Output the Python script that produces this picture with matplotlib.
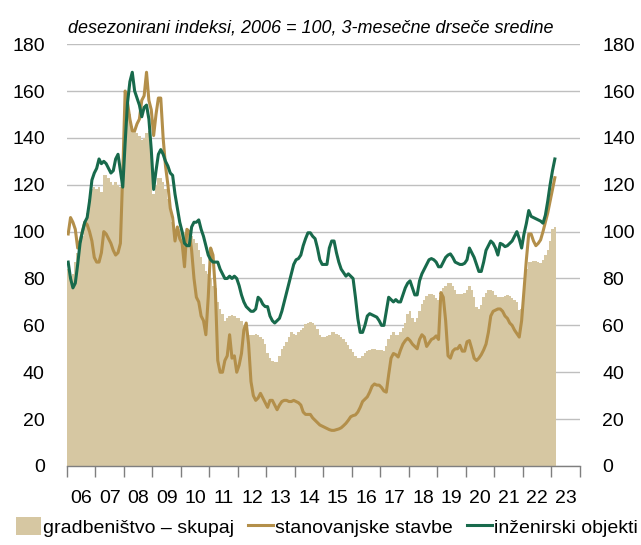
import matplotlib
matplotlib.use("Agg")
import matplotlib.pyplot as plt
from matplotlib.patches import Patch
from matplotlib.lines import Line2D
import numpy as np

plt.rcParams['font.family'] = ['Liberation Sans', 'DejaVu Sans']

# monthly values, Jan 2006 - Feb 2023
gradbenistvo = [
    84, 81, 82, 87, 91, 95, 98, 103, 108, 114, 118, 119,
    118, 119, 117, 124, 124, 123, 121, 120, 121, 120, 119, 120,
    148, 160, 150, 145, 143, 142, 141, 139, 140, 142, 143, 134,
    116, 120, 123, 123, 121, 118, 114, 110, 104, 100, 100, 101,
    101, 100, 100, 99, 98, 97, 95, 92, 89, 86, 83, 82,
    80, 77, 76, 70, 67, 65, 62, 63, 64, 64.5, 64, 63,
    63, 62, 60, 58, 56, 56, 56, 56.5, 56, 55, 54, 52,
    48, 46, 45, 44.5, 44.5, 47, 50, 51, 53, 55, 57, 56.5,
    56, 57, 58, 59, 60.5, 61, 61.5, 61, 60, 58.5, 56, 55,
    55, 55.5, 56, 57, 57, 56.5, 56, 55, 54, 53, 51.5, 50,
    48.5, 47, 46, 46, 47, 48, 49, 49.5, 50, 50, 49.5, 49.5,
    49.5, 49, 51, 54, 56, 57, 56, 56, 57, 59, 61, 65,
    66, 63, 61.5, 63, 66, 69, 71, 72.5, 73.5, 73.5, 73, 71.5,
    71, 74, 76, 77, 78, 78, 77, 75, 73.5, 73.5, 73.5, 74,
    75, 77, 75, 72, 68, 67, 68.5, 72, 74, 75, 75, 74.5,
    73, 72, 72, 72, 72.5, 73, 72.5, 71.5, 71, 70, 66.5, 67,
    78, 84, 87, 87, 87.5, 87.5, 87, 86.5, 88, 90, 92, 96,
    101, 102,
]

stanovanjske = [
    99, 106, 104, 101, 93, 96, 100, 104, 103, 100, 96, 89,
    87, 87, 91, 100, 99, 97, 95, 92, 90, 91, 95, 125,
    160, 155, 148, 143, 143, 146, 148, 156, 158, 168, 156, 152,
    141, 150, 157, 157, 140, 128, 120, 110, 106, 96, 102, 97,
    95, 85, 101, 100, 92, 80, 72, 70, 64, 62, 56, 72,
    93, 90, 75, 45, 40, 40, 45, 47, 56, 46, 47, 40,
    43, 48, 58, 61, 52, 36, 30, 28, 29, 31, 29, 27,
    25, 28, 28, 26, 24, 26, 27.5, 28, 28, 27.5, 27.5, 28,
    27.5, 27, 26, 23, 22, 22, 22, 20.5, 19.5, 18.5, 17.5, 17,
    16.5, 16, 15.5, 15.2, 15.2, 15.5, 15.8, 16.3, 17.2, 18.2, 19.5, 21,
    21.5, 21.8, 23, 25, 27.5, 28.5, 29.5, 31.5, 34, 35, 34.5, 34.5,
    33.5, 32, 31.5, 39, 46, 48, 47.5, 46.5, 49.5, 52, 53.5, 54.5,
    53.5, 52, 51, 50, 54, 56, 55, 51, 52.5, 54, 54.5, 55.5,
    54, 74, 72, 62, 47, 46, 49, 50, 50, 51.5, 49, 49,
    53, 53.5, 50, 46, 45, 46, 47.5, 49.5, 52, 57, 64, 66,
    66.5, 67, 67, 66, 64, 63, 61, 60, 58, 56.5, 55, 62,
    75, 88, 99, 99, 96, 94, 95, 96.5, 100, 104, 108, 113,
    118, 123,
]

inzenirski = [
    87, 80, 76, 78, 86, 95, 100, 104, 106, 113, 122, 125,
    127, 131, 129, 130, 129, 127, 125, 126, 131, 133, 126, 119,
    138, 155, 164, 168, 160, 157, 154, 149, 153, 154, 148, 135,
    118, 126, 133, 135, 133, 130, 128, 125, 124, 116, 110, 104,
    100, 95, 94, 94, 102, 104, 104, 105, 101, 98, 94, 90,
    88, 87, 87, 87, 84, 82, 80, 80, 81, 80, 81, 80,
    77, 73, 70, 68, 67, 66, 66, 67, 72, 71, 69, 68,
    68, 64, 62, 61, 62, 63, 66, 70, 74, 78, 82, 86,
    88, 88.5, 90, 94, 97, 99.5, 99.5, 98, 97, 93, 88, 86,
    86, 86, 93, 96, 96, 91, 87, 84, 82.5, 81, 82, 81,
    80, 72, 63, 57, 57, 60, 64, 65, 64.5, 64, 63.5, 62,
    60, 60, 66, 72, 71, 70, 71, 70, 70, 73, 76, 78,
    79, 76, 73, 73, 79, 82, 84, 86, 88, 88.5, 88, 87,
    85, 85, 87, 89, 90, 90.5, 89, 87, 86.5, 86, 86, 86.5,
    88, 93, 91, 89, 86, 83, 83, 87, 92, 94, 96, 95,
    93, 90, 95, 94.5, 93.6, 94, 95, 96, 98, 100, 97, 93,
    99, 103.5, 109, 106.5, 106, 105.5, 105, 104.5, 103.6, 107, 113, 120,
    126, 131,
]

year_labels = ['06', '07', '08', '09', '10', '11', '12', '13', '14',
               '15', '16', '17', '18', '19', '20', '21', '22', '23']
y_ticks = [0, 20, 40, 60, 80, 100, 120, 140, 160, 180]

c_bar = '#D6C7A2'
c_stan = '#B38F4A'
c_inz = '#186A4C'

fig = plt.figure(figsize=(6.41, 5.45), dpi=100)
ax = fig.add_axes([0.1045, 0.145, 0.8, 0.774])

x = np.arange(len(gradbenistvo)) + 0.5
ax.bar(x, gradbenistvo, width=1.0, color=c_bar, linewidth=0, zorder=2)
ax.plot(x, stanovanjske, color=c_stan, lw=2.2, zorder=3)
ax.plot(x, inzenirski, color=c_inz, lw=2.2, zorder=4)

n_months = 12 * len(year_labels)
ax.set_xlim(0, n_months)
ax.set_ylim(0, 180)

# year boundaries as ticks, labels in the middle of each year
ax.set_xticks(np.arange(0, n_months + 1, 12))
ax.set_xticklabels([])
ax.set_xticks(np.arange(6, n_months, 12), minor=True)
ax.set_xticklabels(year_labels, minor=True)
ax.tick_params(axis='x', which='major', length=8, width=1, color='#7F7F7F', direction='out')
ax.tick_params(axis='x', which='minor', length=0, pad=17, labelsize=14)

ax.set_yticks(y_ticks)
ax.tick_params(axis='y', length=0, labelsize=14, labelleft=True, labelright=True, pad=16)

ax.grid(axis='y', color='#BFBFBF', lw=1, zorder=0)
ax.set_axisbelow(True)
for s in ['top', 'left', 'right']:
    ax.spines[s].set_visible(False)
ax.spines['bottom'].set_color('#7F7F7F')
ax.spines['bottom'].set_linewidth(1)
ax.spines['bottom'].set_zorder(5)

fig.text(0.106, 1 - 28 / 545, 'desezonirani indeksi, 2006 = 100, 3-mesečne drseče sredine',
         fontsize=13, style='italic', va='center', ha='left')

handles = [Patch(facecolor=c_bar, edgecolor='none'),
           Line2D([], [], color=c_stan, lw=2.2),
           Line2D([], [], color=c_inz, lw=2.2)]
labels = ['gradbeništvo – skupaj', 'stanovanjske stavbe', 'inženirski objekti']
fig.legend(handles, labels, loc='center', bbox_to_anchor=(0.51, 1 - 527 / 545), ncol=3,
           frameon=False, fontsize=14, handlelength=1.3, handleheight=1.0,
           handletextpad=0.1, columnspacing=0.7, borderaxespad=0, borderpad=0)

fig.savefig('out.png', dpi=100)
